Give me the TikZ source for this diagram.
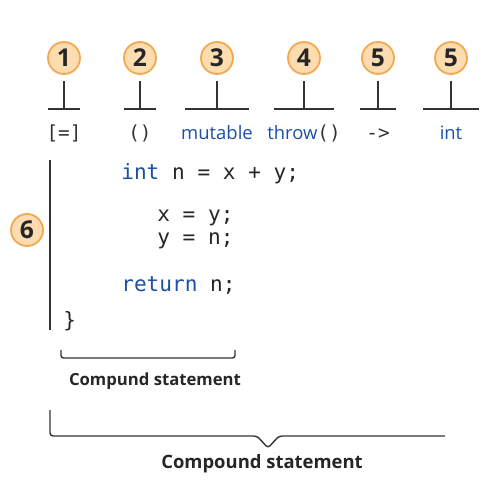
\documentclass[tikz,border=0pt]{standalone}
\usepackage{fontspec}
\setmainfont{Open Sans}
\setsansfont{Open Sans}
\setmonofont{DejaVu Sans Mono}
\usepackage{tikz}
\definecolor{numfill}{HTML}{FDDCB0}
\definecolor{numdraw}{HTML}{F3A850}
\definecolor{kwblue}{HTML}{1C4FA6}
\definecolor{inkgray}{HTML}{333333}
\tikzstyle{num} = [circle, minimum size=32\unitpx, inner sep=0pt, draw=numdraw, line width=1pt, fill=numfill, font=\fontsize{14}{14}\selectfont\bfseries, text=black!85]
\tikzstyle{part} = [inner sep=0pt, anchor=base, font=\ttfamily\fontsize{11}{11}\selectfont, text=inkgray]
\tikzstyle{code} = [inner sep=0pt, anchor=base west, font=\ttfamily\fontsize{12}{12}\selectfont, text=black!85]
\tikzstyle{note} = [inner sep=0pt, anchor=base, text=black!85]
\tikzstyle{tee} = [line width=0.9pt, draw=inkgray]
\newlength{\unitpx}
\setlength{\unitpx}{0.02cm}
\newcommand{\kw}[1]{\textcolor{kwblue}{#1}}
\begin{document}
\begin{tikzpicture}[x=0.02cm, y=-0.02cm]
\useasboundingbox (0,0) rectangle (491,480);
% numbered parts of the lambda
\node (n1) [num] at (64,58) {1};
\node (n2) [num] at (140,58) {2};
\node (n3) [num] at (217,58) {3};
\node (n4) [num] at (304,58) {4};
\node (n5) [num] at (378,58) {5};
\node (n5b) [num] at (451,58) {5};
\node (n6) [num] at (27,230) {6};
% tokens
\node (capture) [part] at (64,139) {[=]};
\node (params) [part] at (140,139) {()};
\node (mutable) [part, font=\sffamily\fontsize{10.5}{10.5}\selectfont] at (217,139) {\kw{mutable}};
\node (throw) [part] at (304,139) {\textsf{\fontsize{10.5}{10.5}\selectfont\kw{throw}}()};
\node (arrowtok) [part] at (378,139) {->};
\node (rettype) [part, font=\sffamily\fontsize{10.5}{10.5}\selectfont] at (451,139) {\kw{int}};
% tees
\foreach \n/\w in {n1/16, n2/16, n3/32, n4/30, n5/18, n5b/28} {
  \draw [tee] ([yshift=-6\unitpx]\n.south) -- ++(0,28);
  \draw [tee] ([yshift=-34\unitpx]\n.south) ++(-\w,0) -- ++(2*\w,0);
}
% body
\node (line1) [code] at (121,179) {\kw{int} n = x + y;};
\node (line2) [code] at (157,221) {x = y;};
\node (line3) [code] at (157,244) {y = n;};
\node (line4) [code] at (121,291) {\kw{return} n;};
\node (rbrace) [code] at (63,327) {\}};
\coordinate (bartop) at (50,160);
\coordinate (barbot) at (50,330);
\draw [tee] (bartop) -- (barbot);
% braces
\coordinate (b1l) at (61,350);
\coordinate (b1r) at (235,350);
\draw [tee, line width=0.8pt, rounded corners=2.5\unitpx] (b1l) -- (61,358) -- (235,358) -- (b1r);
\node (stmt1) [note, font=\fontsize{9.5}{9.5}\selectfont\bfseries] at (155,385) {Compund statement};
\coordinate (b2l) at (50,410);
\coordinate (b2r) at (445,436);
\draw [tee, line width=0.8pt, rounded corners=3\unitpx] (b2l) -- (50,436) -- (257,436) -- (268,448) -- (279,436) -- (b2r);
\node (stmt2) [note, font=\fontsize{10.5}{10.5}\selectfont\bfseries] at (262,468) {Compound statement};
\end{tikzpicture}
\end{document}
